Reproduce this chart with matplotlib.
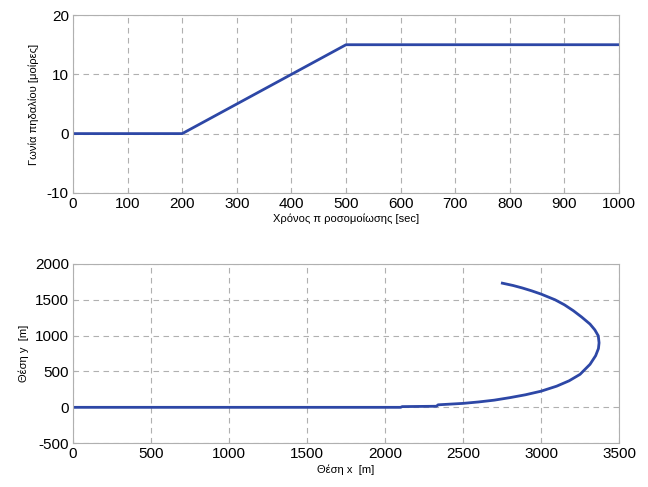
import matplotlib.pyplot as plt

plt.rcParams['font.family'] = ['Liberation Sans', 'DejaVu Sans']
plt.rcParams['axes.unicode_minus'] = False

# πάνω γράφημα: γωνία πηδαλίου
t_sec = [0, 200, 500, 1000]
rudder_deg = [0, 0, 15, 15]

# κάτω γράφημα: τροχιά
pos_x = [0, 2100, 2110, 2330, 2340, 2500, 2600, 2700, 2800, 2900, 3000, 3100,
         3180, 3250, 3314, 3350, 3368, 3372, 3367, 3345, 3314, 3260, 3207,
         3150, 3090, 3000, 2940, 2880, 2820, 2752]
pos_y = [0, 0, 10, 15, 35, 55, 75, 100, 135, 175, 225, 295,
         370, 460, 600, 720, 820, 900, 997, 1080, 1161, 1260, 1348,
         1430, 1500, 1580, 1625, 1665, 1700, 1732]

line_color = '#2d47a6'
grid_color = '#b0b0b0'

fig = plt.figure(figsize=(6.48, 4.87), dpi=100)
ax1 = fig.add_axes([0.1127, 0.604, 0.8426, 0.365])
ax2 = fig.add_axes([0.1127, 0.090, 0.8426, 0.368])

ax1.plot(t_sec, rudder_deg, color=line_color, lw=2)
ax1.set_xlim(0, 1000)
ax1.set_ylim(-10, 20)
ax1.set_xticks(range(0, 1001, 100))
ax1.set_yticks([-10, 0, 10, 20])
ax1.set_xlabel('Χρόνος π ροσομοίωσης [sec]', fontsize=8, labelpad=2)
ax1.set_ylabel('Γωνία πηδαλίου [μοίρες]', fontsize=8, labelpad=6)

ax2.plot(pos_x, pos_y, color=line_color, lw=2)
ax2.set_xlim(0, 3500)
ax2.set_ylim(-500, 2000)
ax2.set_xticks(range(0, 3501, 500))
ax2.set_yticks(range(-500, 2001, 500))
ax2.set_xlabel('Θέση x  [m]', fontsize=8, labelpad=2)
ax2.set_ylabel('Θέση y  [m]', fontsize=8, labelpad=4)

for ax in (ax1, ax2):
    ax.grid(True, color=grid_color, linestyle=(0, (5, 4)), linewidth=0.8)
    for s in ax.spines.values():
        s.set_color('#b0b0b0')
        s.set_linewidth(0.8)
    ax.tick_params(direction='in', length=2, color='#b0b0b0', labelsize=11, pad=3)

plt.savefig('out.png', dpi=100)
